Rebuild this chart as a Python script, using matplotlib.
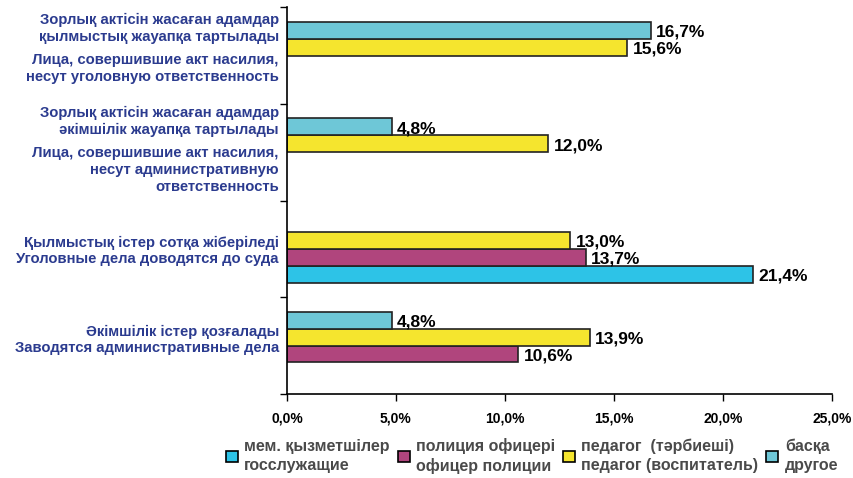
import numpy as np
import matplotlib.pyplot as plt
from matplotlib.ticker import FuncFormatter, FixedLocator
from matplotlib.patches import Patch

plt.rcParams['font.family'] = ['Liberation Sans', 'DejaVu Sans']

# =========================
# Data
# =========================
cat_kz = [
    "Зорлық актісін жасаған адамдар\nқылмыстық жауапқа тартылады",
    "Зорлық актісін жасаған адамдар\nәкімшілік жауапқа тартылады",
    "Қылмыстық істер сотқа жіберіледі",
    "Әкімшілік істер қозғалады",
]
cat_ru = [
    "Лица, совершившие акт насилия,\nнесут уголовную ответственность",
    "Лица, совершившие акт насилия,\nнесут административную\nответственность",
    "Уголовные дела доводятся до суда",
    "Заводятся административные дела",
]

series_names = [
    "мем. қызметшілер\nгосслужащие",
    "полиция офицері\nофицер полиции",
    "педагог  (тәрбиеші)\nпедагог (воспитатель)",
    "басқа\nдругое",
]
series_colors = ["#2DC3E7", "#B0457D", "#F5E52E", "#6EC7D7"]

# values per series, categories top to bottom (None = no bar)
gos = [None, None, 21.4, None]
police = [None, None, 13.7, 10.6]
pedagog = [15.6, 12.0, 13.0, 13.9]
other = [16.7, 4.8, None, 4.8]
series_vals = [gos, police, pedagog, other]

x_ticks = [0, 5, 10, 15, 20, 25]

# =========================
# Plot
# =========================
fig = plt.figure(figsize=(8.54, 4.78), dpi=100)
ax = fig.add_axes([0.336, 0.176, 0.638, 0.809])

n_cat = len(cat_kz)
y = np.arange(n_cat)
h = 0.175
# series 0 sits lowest in each group
offsets = [1.5 * h, 0.5 * h, -0.5 * h, -1.5 * h]

for vals, color, off in zip(series_vals, series_colors, offsets):
    for i, v in enumerate(vals):
        if v is None:
            continue
        ax.barh(y[i] + off, v, height=h, color=color,
                edgecolor="#222222", linewidth=1.2)
        ax.text(v + 0.25, y[i] + off + 0.02, f"{v:.1f}%".replace(".", ","),
                ha="left", va="center", fontsize=12.5, fontweight="bold",
                color="black")

ax.set_xlim(0, 25)
ax.set_ylim(n_cat - 0.5, -0.5)

ax.set_xticks(x_ticks)
ax.xaxis.set_major_formatter(
    FuncFormatter(lambda v, p: f"{v:.1f}%".replace(".", ",")))
ax.tick_params(axis="x", direction="out", length=5, width=1, pad=8,
               labelsize=10, color="black")
for lab in ax.get_xticklabels():
    lab.set_fontweight("bold")

ax.set_yticks([])
ax.yaxis.set_minor_locator(FixedLocator(np.arange(-0.5, n_cat, 1.0)))
ax.tick_params(axis="y", which="minor", direction="out", length=5, width=1)

for s in ["top", "right"]:
    ax.spines[s].set_visible(False)
for s in ["left", "bottom"]:
    ax.spines[s].set_linewidth(1.2)
    ax.spines[s].set_color("black")

# category labels (two paragraphs each)
label_color = "#2B3B8F"
label_shift = [-0.07, -0.11, 0.02, -0.06]
trans = ax.get_yaxis_transform()
for i in range(n_cat):
    yc = y[i] + label_shift[i]
    gap = 0.045 if "\n" in cat_kz[i] else 0.01
    ax.text(-0.015, yc - gap, cat_kz[i], transform=trans, ha="right",
            va="bottom", ma="right", fontsize=10.7, fontweight="bold",
            color=label_color, linespacing=1.3)
    ax.text(-0.015, yc + gap, cat_ru[i], transform=trans, ha="right",
            va="top", ma="right", fontsize=10.7, fontweight="bold",
            color=label_color, linespacing=1.3)

# legend
handles = [Patch(facecolor=c, edgecolor="black", linewidth=1.2)
           for c in series_colors]
leg = fig.legend(handles, series_names, loc="center",
                 bbox_to_anchor=(0.623, 0.046), ncol=4, frameon=False,
                 handlelength=0.75, handleheight=0.75, handletextpad=0.4,
                 columnspacing=0.5, borderpad=0.2,
                 prop={"family": ["Liberation Sans", "DejaVu Sans"],
                       "weight": "bold", "size": 11.5})
for t in leg.get_texts():
    t.set_color("#4A4A4A")
    t.set_linespacing(1.35)

fig.savefig("out.png", dpi=100)
